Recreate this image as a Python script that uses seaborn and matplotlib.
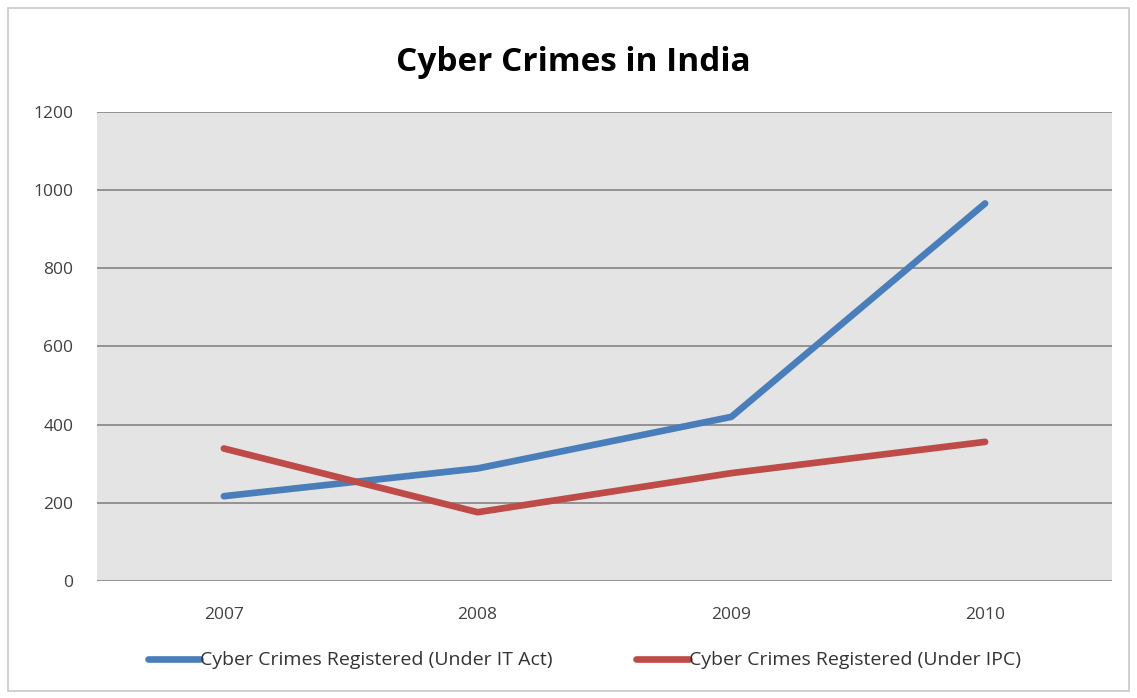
import pandas as pd
import numpy as np
import matplotlib.pyplot as plt
import seaborn as sns
from matplotlib.patches import Rectangle

# Data
years = ['2007', '2008', '2009', '2010']
it_act = [217, 288, 420, 966]
ipc = [339, 176, 276, 356]
series_names = ['Cyber Crimes Registered (Under IT Act)',
                'Cyber Crimes Registered (Under IPC)']

df = pd.DataFrame({
    'Year': years * 2,
    'Cases': it_act + ipc,
    'Series': [series_names[0]] * 4 + [series_names[1]] * 4,
})

sns.set_theme(style='white')
plt.rcParams['font.family'] = ['Open Sans', 'DejaVu Sans']

fig = plt.figure(figsize=(11.37, 6.98), dpi=100)
ax = fig.add_axes([0.0853, 0.1676, 0.8927, 0.672])

sns.lineplot(data=df, x='Year', y='Cases', hue='Series', sort=False,
             palette=['#4A7EBB', '#BE4B48'], linewidth=4.8, ax=ax,
             legend=False, solid_capstyle='round')

ax.set_facecolor('#E4E4E4')
ax.set_xlim(-0.5, 3.5)
ax.set_ylim(0, 1200)
ax.set_yticks(np.arange(0, 1201, 200))
ax.yaxis.grid(True, color='#8C8C8C', linewidth=1.3)
ax.set_axisbelow(True)
for s in ax.spines.values():
    s.set_visible(False)
ax.tick_params(axis='both', length=0, labelsize=12.5, colors='#404040')
ax.tick_params(axis='x', pad=19)
ax.tick_params(axis='y', pad=17)
ax.set_xlabel('')
ax.set_ylabel('')

fig.text(0.504, 0.911, 'Cyber Crimes in India', ha='center', va='center',
         fontsize=24, fontweight='bold', color='black')

# Legend below the plot
handles = [plt.Line2D([], [], color=c, linewidth=4.8)
           for c in ['#4A7EBB', '#BE4B48']]
fig.legend(handles, series_names, loc='center', bbox_to_anchor=(0.514, 0.054),
           ncol=2, frameon=False, fontsize=14, handlelength=2.7,
           handletextpad=0.0, columnspacing=4.3, labelcolor='#333333')

# Outer chart border
fig.patches.append(Rectangle((0.007, 0.01), 0.986, 0.978, transform=fig.transFigure,
                             fill=False, edgecolor='#C8C8C8', linewidth=1.2))

plt.savefig('out.png', dpi=100)
